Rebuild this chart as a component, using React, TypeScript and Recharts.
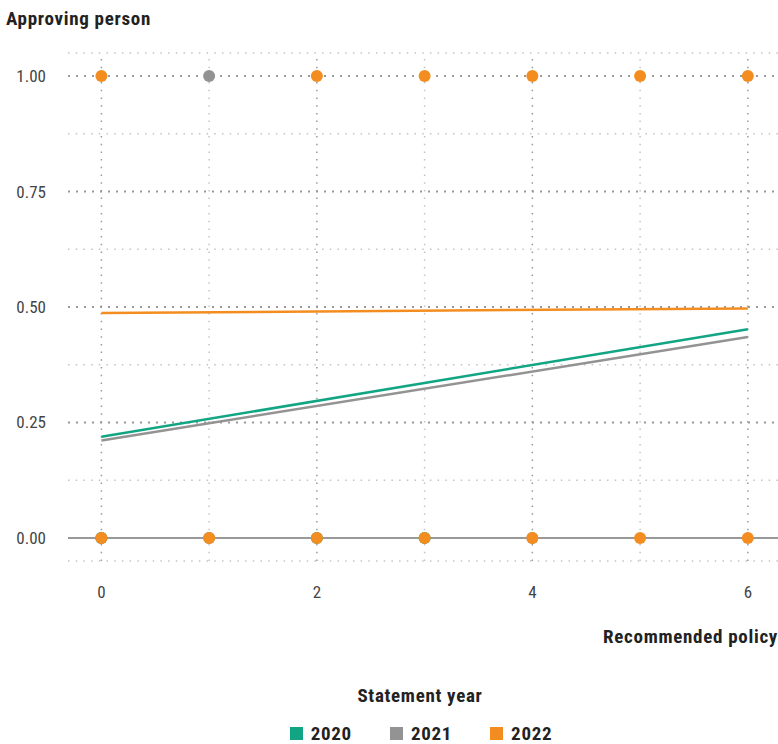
import { ComposedChart, Line, Scatter, XAxis, YAxis, ReferenceLine } from 'recharts';

const years = ['2020', '2021', '2022'];
const colors = ['#12a584', '#939393', '#f48d1f'];

// fitted trend lines (start at policy 0, end at policy 6)
const fit2020 = [{ x: 0, y: 0.219 }, { x: 6, y: 0.452 }];
const fit2021 = [{ x: 0, y: 0.211 }, { x: 6, y: 0.435 }];
const fit2022 = [{ x: 0, y: 0.487 }, { x: 6, y: 0.497 }];

// observed decisions
const obs2020 = [{ x: 0, y: 0 }, { x: 2, y: 0 }, { x: 3, y: 0 }];
const obs2021 = [{ x: 0, y: 0 }, { x: 1, y: 1 }, { x: 1, y: 0 }, { x: 4, y: 0 }];
const obs2022 = [
  { x: 0, y: 1 }, { x: 2, y: 1 }, { x: 3, y: 1 }, { x: 4, y: 1 }, { x: 5, y: 1 }, { x: 6, y: 1 },
  { x: 0, y: 0 }, { x: 1, y: 0 }, { x: 2, y: 0 }, { x: 3, y: 0 }, { x: 4, y: 0 }, { x: 5, y: 0 }, { x: 6, y: 0 },
];

const xTicks = [0, 2, 4, 6];
const yTicks = [0, 0.25, 0.5, 0.75, 1];
const xMajor = [0, 2, 4, 6];
const xMinor = [1, 3, 5];
const yMajor = [0.25, 0.5, 0.75, 1];
const yMinor = [-0.05, 0.125, 0.375, 0.625, 0.875, 1.05];

const font = '"Liberation Sans Narrow", "Roboto Condensed", Roboto, sans-serif';
const titleStyle = { fontSize: 19, fontWeight: 700, color: '#222', letterSpacing: 0.7 };

const dot = (color: string) => (p: any) => <circle cx={p.cx} cy={p.cy} r={6} fill={color} />;

export default function App() {
  return (
    <div style={{ position: 'absolute', left: 0, top: 0, width: 778, height: 744, fontFamily: font, background: '#fff' }}>
      <div style={{ ...titleStyle, position: 'absolute', left: 6, top: 7 }}>Approving person</div>
      <ComposedChart width={778} height={744} margin={{ top: 53, right: 0, left: 0, bottom: 143 }}>
        <XAxis
          type="number"
          dataKey="x"
          domain={[-0.31, 6.28]}
          ticks={xTicks}
          axisLine={false}
          tickLine={false}
          tickMargin={19}
          height={40}
          tick={{ fill: '#444', fontSize: 17, fontFamily: font }}
          allowDuplicatedCategory={false}
        />
        <YAxis
          type="number"
          dataKey="y"
          domain={[-0.05, 1.05]}
          ticks={yTicks}
          width={68}
          axisLine={false}
          tickLine={false}
          tickMargin={16}
          tickFormatter={(v: number) => v.toFixed(2)}
          tick={{ fill: '#444', fontSize: 17, fontFamily: font }}
        />
        {yMinor.map((v) => (
          <ReferenceLine key={'ym' + v} y={v} stroke="#c4c4c4" strokeWidth={1.5} strokeDasharray="1.5 6.2" />
        ))}
        {xMinor.map((v) => (
          <ReferenceLine key={'xm' + v} x={v} stroke="#c4c4c4" strokeWidth={1.5} strokeDasharray="1.5 6.2" />
        ))}
        {xMajor.map((v) => (
          <ReferenceLine key={'xM' + v} x={v} stroke="#999" strokeWidth={1.5} strokeDasharray="1.5 6.2" />
        ))}
        {yMajor.map((v) => (
          <ReferenceLine key={'yM' + v} y={v} stroke="#999" strokeWidth={2} strokeDasharray="2 6" />
        ))}
        <ReferenceLine y={0} stroke="#777" strokeWidth={1.5} />
        <Line data={fit2020} dataKey="y" stroke={colors[0]} strokeWidth={2.5} dot={false} isAnimationActive={false} />
        <Line data={fit2021} dataKey="y" stroke={colors[1]} strokeWidth={2.5} dot={false} isAnimationActive={false} />
        <Line data={fit2022} dataKey="y" stroke={colors[2]} strokeWidth={2.5} dot={false} isAnimationActive={false} />
        <Scatter data={obs2020} dataKey="y" shape={dot(colors[0])} isAnimationActive={false} />
        <Scatter data={obs2021} dataKey="y" shape={dot(colors[1])} isAnimationActive={false} />
        <Scatter data={obs2022} dataKey="y" shape={dot(colors[2])} isAnimationActive={false} />
      </ComposedChart>
      <div style={{ ...titleStyle, position: 'absolute', right: 0, top: 625 }}>Recommended policy</div>
      <div style={{ ...titleStyle, position: 'absolute', left: 0, width: 840, top: 684, textAlign: 'center' }}>Statement year</div>
      <div style={{ ...titleStyle, position: 'absolute', left: 0, width: 842, top: 722, display: 'flex', justifyContent: 'center', gap: 38 }}>
        {years.map((y, i) => (
          <div key={y} style={{ display: 'flex', alignItems: 'center', gap: 8 }}>
            <span style={{ width: 13, height: 13, background: colors[i], display: 'inline-block' }} />
            <span>{y}</span>
          </div>
        ))}
      </div>
    </div>
  );
}
